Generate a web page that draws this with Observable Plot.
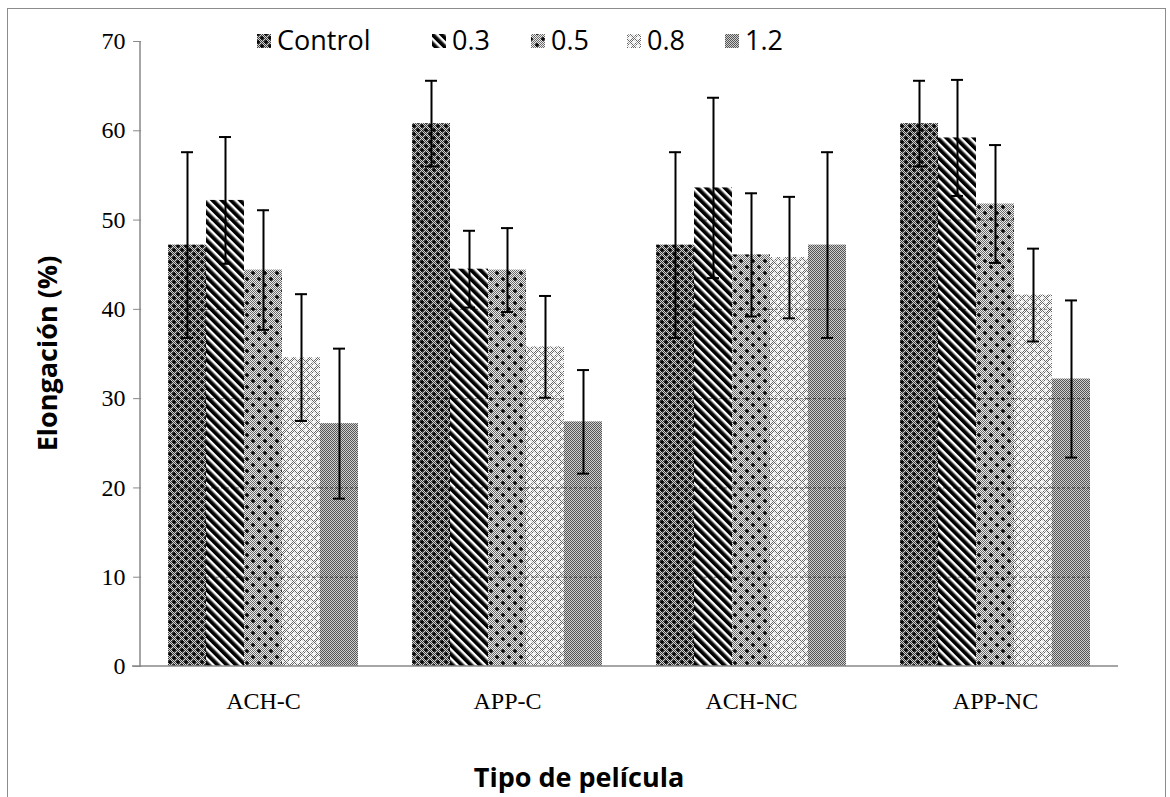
<!DOCTYPE html>
<html>
<head>
<meta charset="utf-8">
<script src="https://cdn.jsdelivr.net/npm/d3@7"></script>
<script src="https://cdn.jsdelivr.net/npm/@observablehq/plot@0.6"></script>
<style>
  html, body { margin: 0; padding: 0; background: #fff; }
  #chart { width: 1170px; height: 797px; }
</style>
</head>
<body>
<div id="chart"></div>
<script>
// ---- data ----
const groups = ["ACH-C", "APP-C", "ACH-NC", "APP-NC"];
const series = ["Control", "0.3", "0.5", "0.8", "1.2"];
// mean elongation (%) per series, in group order
const valControl = [47.2, 60.8, 47.2, 60.8];
const val03      = [52.2, 44.5, 53.6, 59.2];
const val05      = [44.4, 44.4, 46.1, 51.8];
const val08      = [34.6, 35.8, 45.8, 41.6];
const val12      = [27.2, 27.4, 47.2, 32.2];
// error (± half-length of error bar)
const errControl = [10.4, 4.8, 10.4, 4.8];
const err03      = [7.1, 4.3, 10.1, 6.5];
const err05      = [6.7, 4.7, 6.9, 6.6];
const err08      = [7.1, 5.7, 6.8, 5.2];
const err12      = [8.4, 5.8, 10.4, 8.8];
const yTicks = [0, 10, 20, 30, 40, 50, 60, 70];

const values = [valControl, val03, val05, val08, val12];
const errors = [errControl, err03, err05, err08, err12];
const rows = [];
groups.forEach((g, gi) => series.forEach((s, si) => {
  rows.push({group: g, series: s, value: values[si][gi], err: errors[si][gi]});
}));
// grid segments visible inside the bars
const gridRows = [];
rows.forEach(r => yTicks.forEach(t => { if (t > 0 && t < r.value) gridRows.push({group: r.group, series: r.series, y: t}); }));

const patIds = series.map((s, i) => "pat" + i);

const W = 1170, H = 797, mL = 140, mR = 52, mT = 41, mB = 131;
const padIn = 0.22, padOut = 0.11;
const fxStep = (W - mL - mR) / (groups.length - padIn + 2 * padOut);
const outerGap = padOut * fxStep; // distance from frame edge to first facet

const plot = Plot.plot({
  width: W,
  height: H,
  marginLeft: mL,
  marginRight: mR,
  marginTop: mT,
  marginBottom: mB,
  style: {background: "transparent"},
  fx: {domain: groups, paddingInner: padIn, paddingOuter: padOut, label: null},
  x: {domain: series, padding: 0, axis: null},
  y: {domain: [0, 70], label: null},
  color: {domain: series, range: patIds.map(id => `url(#${id})`)},
  marks: [
    Plot.barY(rows, {fx: "group", x: "series", y: "value", fill: "series"}),
    Plot.tickY(gridRows, {fx: "group", x: "series", y: "y", stroke: "#000", strokeOpacity: 0.5, strokeDasharray: "3,2"}),
    Plot.ruleX(rows, {fx: "group", x: "series", y1: d => d.value - d.err, y2: d => d.value + d.err, stroke: "#000", strokeWidth: 2}),
    Plot.tickY(rows, {fx: "group", x: "series", y: d => d.value + d.err, stroke: "#000", strokeWidth: 2, inset: 13}),
    Plot.tickY(rows, {fx: "group", x: "series", y: d => d.value - d.err, stroke: "#000", strokeWidth: 2, inset: 13}),
    Plot.axisY({ticks: yTicks, tickSize: 8, tickPadding: 8, stroke: "#888", fill: "#000", dx: -outerGap,
      fontSize: 24, fontFamily: "Liberation Serif", label: null, tickFormat: d => String(d)}),
    Plot.axisFx({anchor: "bottom", tickSize: 0, tickPadding: 25, fontSize: 24, fontFamily: "Liberation Serif", fill: "#000", label: null})
  ]
});

document.getElementById("chart").appendChild(plot);

const svg = d3.select(plot);
const yS = plot.scale("y");
const y0 = yS.apply(0), yTop = yS.apply(70);
const xLeft = mL, xRight = W - mR;

// patterns
const defs = svg.insert("defs", ":first-child");
function checker(p, size, light, dark) {
  p.append("rect").attr("width", size).attr("height", size).attr("fill", light);
  for (let yy = 0; yy < size; yy++) for (let xx = 0; xx < size; xx++)
    if ((xx + yy) % 2 === 0) p.append("rect").attr("x", xx).attr("y", yy).attr("width", 1).attr("height", 1).attr("fill", dark);
}
function plus(p, cx, cy, color, arm) {
  p.append("rect").attr("x", cx - arm).attr("y", cy - 0.75).attr("width", 2 * arm).attr("height", 1.5).attr("fill", color);
  p.append("rect").attr("x", cx - 0.75).attr("y", cy - arm).attr("width", 1.5).attr("height", 2 * arm).attr("fill", color);
}
// Control: dark diamond lattice of black pluses
{
  const p = defs.append("pattern").attr("id", "pat0").attr("patternUnits", "userSpaceOnUse").attr("width", 8).attr("height", 8);
  checker(p, 8, "#d0d0d0", "#404040");
  plus(p, 2, 2, "#000", 2); plus(p, 6, 6, "#000", 2);
}
// 0.3: diagonal stripes
{
  const p = defs.append("pattern").attr("id", "pat1").attr("patternUnits", "userSpaceOnUse")
    .attr("width", 6.5).attr("height", 6.5).attr("patternTransform", "rotate(-45)");
  p.append("rect").attr("width", 6.5).attr("height", 6.5).attr("fill", "#fff");
  p.append("rect").attr("width", 3.6).attr("height", 6.5).attr("fill", "#000");
  p.append("rect").attr("x", 3.6).attr("width", 0.8).attr("height", 6.5).attr("fill", "#777");
}
// 0.5: fine gray checker with sparse black pluses
{
  const p = defs.append("pattern").attr("id", "pat2").attr("patternUnits", "userSpaceOnUse").attr("width", 12).attr("height", 12);
  checker(p, 12, "#ececec", "#6a6a6a");
  plus(p, 3, 3, "#000", 2); plus(p, 9, 9, "#000", 2);
}
// 0.8: light, white pluses on gray
{
  const p = defs.append("pattern").attr("id", "pat3").attr("patternUnits", "userSpaceOnUse").attr("width", 8).attr("height", 8);
  checker(p, 8, "#ffffff", "#666");
  plus(p, 2, 2, "#fff", 2.5); plus(p, 6, 6, "#fff", 2.5);
}
// 1.2: fine checker
{
  const p = defs.append("pattern").attr("id", "pat4").attr("patternUnits", "userSpaceOnUse").attr("width", 2).attr("height", 2);
  checker(p, 2, "#cfcfcf", "#555");
}

// outer frame
svg.append("rect").attr("x", 7.5).attr("y", 8.5).attr("width", 1158).attr("height", 800)
  .attr("fill", "none").attr("stroke", "#8c8c8c").attr("stroke-width", 1);

// axis lines
svg.append("line").attr("x1", xLeft).attr("x2", xLeft).attr("y1", yTop).attr("y2", y0).attr("stroke", "#888").attr("stroke-width", 1.5);
svg.append("line").attr("x1", xLeft - 8).attr("x2", xRight).attr("y1", y0).attr("y2", y0).attr("stroke", "#888").attr("stroke-width", 1.5);

// axis titles
svg.append("text").attr("transform", `translate(57,${(yTop + y0) / 2}) rotate(-90)`)
  .attr("text-anchor", "middle").attr("font-family", "Open Sans").attr("font-weight", "bold").attr("font-size", 27)
  .attr("fill", "#000").text("Elongación (%)");
svg.append("text").attr("x", 579).attr("y", 787)
  .attr("text-anchor", "middle").attr("font-family", "Open Sans").attr("font-weight", "bold").attr("font-size", 27)
  .attr("fill", "#000").text("Tipo de película");

// legend
const legendX = [257, 432, 531, 627, 725];
const lg = svg.append("g");
series.forEach((s, i) => {
  lg.append("rect").attr("x", legendX[i]).attr("y", 34).attr("width", 14).attr("height", 14).attr("fill", `url(#${patIds[i]})`);
  lg.append("text").attr("x", legendX[i] + 20).attr("y", 50).attr("text-anchor", "start")
    .attr("font-family", "Open Sans").attr("font-size", 27).attr("fill", "#000").text(s);
});
</script>
</body>
</html>
